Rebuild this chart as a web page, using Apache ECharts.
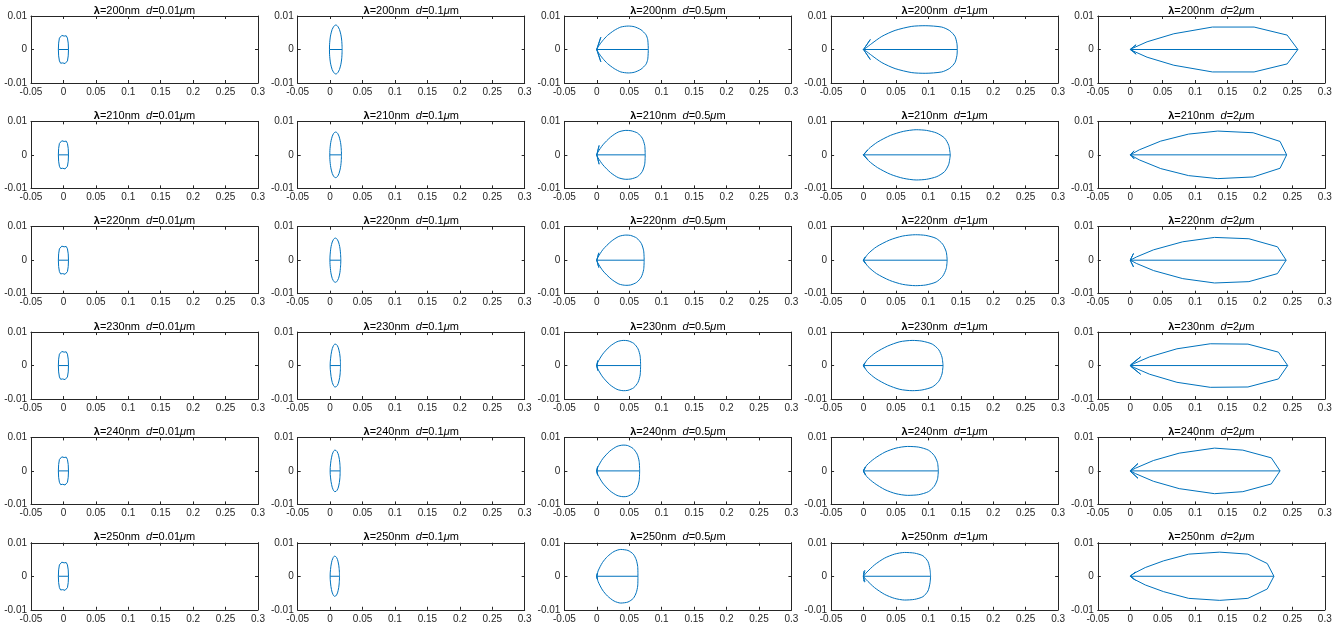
<!DOCTYPE html>
<html>
<head>
<meta charset="utf-8">
<script src="https://cdn.jsdelivr.net/npm/echarts@6/dist/echarts.min.js"></script>
<style>
html,body{margin:0;padding:0;background:#fff;}
#chart{width:1344px;height:627px;}
</style>
</head>
<body>
<div id="chart"></div>
<script>
// ---- data (upper halves of each scattering pattern, x/y) ----
const wavelengths = [200, 210, 220, 230, 240, 250];
const diameters = ['0.01', '0.1', '0.5', '1', '2'];
const xMin = -0.05, xMax = 0.3, xStep = 0.05;
const yMin = -0.01, yMax = 0.01, yStep = 0.01;

// d = 0.01 um (same for all wavelengths)
const d001 = [[0.0078,0],[0.0074,0.0019],[0.0062,0.0034],[0.0043,0.0041],[0.0025,0.0042],[0.0011,0.0040],[0,0.0039],[-0.0011,0.0040],[-0.0025,0.0042],[-0.0043,0.0041],[-0.0062,0.0034],[-0.0074,0.0019],[-0.0078,0]];

// d = 0.1 um
const d01_200 = [[0.0185,0],[0.0178,0.0028],[0.0156,0.0052],[0.0125,0.0067],[0.0088,0.0073],[0.0050,0.0067],[0.0019,0.0052],[-0.0003,0.0028],[-0.001,0]];
const d01_210 = [[0.0175,0],[0.0168,0.0026],[0.0148,0.0048],[0.0119,0.0063],[0.0085,0.0068],[0.0051,0.0063],[0.0022,0.0048],[0.0002,0.0026],[-0.0005,0]];
const d01_220 = [[0.0165,0],[0.0158,0.0025],[0.0140,0.0047],[0.0113,0.0061],[0.0081,0.0066],[0.0049,0.0061],[0.0022,0.0047],[0.0004,0.0025],[-0.0003,0]];
const d01_230 = [[0.0160,0],[0.0154,0.0025],[0.0136,0.0046],[0.0110,0.0060],[0.0078,0.0064],[0.0048,0.0058],[0.0024,0.0043],[0.0008,0.0022],[0,0]];
const d01_240 = [[0.0155,0],[0.0149,0.0024],[0.0132,0.0045],[0.0106,0.0058],[0.0075,0.0062],[0.0046,0.0056],[0.0023,0.0041],[0.0007,0.0021],[0,0]];
const d01_250 = [[0.0145,0],[0.0139,0.0023],[0.0123,0.0043],[0.0099,0.0056],[0.0070,0.0060],[0.0043,0.0054],[0.0021,0.0040],[0.0006,0.0020],[0,0]];

// d = 0.5 um
const d05_200 = [[0.0794,0],[0.0785,0.0029],[0.0758,0.0044],[0.068,0.0059],[0.0577,0.0068],[0.0485,0.0070],[0.037,0.0067],[0.0268,0.0057],[0.0165,0.0042],[0.0088,0.0026],[0.002,0.0008],[0,0],[0.0062,0.0037],[0.0008,0.0006],[-0.0005,0]];
const d05_210 = [[0.0746,0],[0.0738,0.0028],[0.070,0.0050],[0.0628,0.0065],[0.0526,0.0072],[0.0447,0.0073],[0.033,0.0068],[0.0212,0.0053],[0.0094,0.0030],[0.0016,0.0008],[0,0],[0.0035,0.0028],[0.0006,0.0005],[-0.0004,0]];
const d05_220 = [[0.0730,0],[0.0722,0.0028],[0.0686,0.0050],[0.0615,0.0066],[0.0520,0.0074],[0.0447,0.0075],[0.034,0.0071],[0.022,0.0056],[0.0095,0.0032],[0.0015,0.0008],[0,0],[0.003,0.0022],[0.0005,0.0004],[-0.0003,0]];
const d05_230 = [[0.0675,0],[0.0668,0.0028],[0.0635,0.0050],[0.057,0.0066],[0.048,0.0074],[0.0408,0.0075],[0.031,0.0071],[0.020,0.0057],[0.009,0.0034],[0.0015,0.0010],[0,0],[0.0015,0.0015],[0.0003,0.0004],[-0.0002,0]];
const d05_240 = [[0.0660,0],[0.0653,0.0028],[0.0622,0.0050],[0.0558,0.0067],[0.047,0.0076],[0.0405,0.0077],[0.031,0.0073],[0.020,0.0059],[0.009,0.0036],[0.0015,0.0011],[0,0],[0.0012,0.0013],[0.0002,0.0003],[-0.0002,0]];
const d05_250 = [[0.0634,0],[0.063,0.0029],[0.0608,0.0049],[0.0562,0.0066],[0.048,0.0077],[0.0368,0.0080],[0.0266,0.0074],[0.0164,0.0059],[0.0087,0.0041],[0.002,0.0016],[0,0],[0.0008,0.0009],[-0.0002,0]];

// d = 1 um
const d1_200 = [[0.1446,0],[0.144,0.0018],[0.141,0.0039],[0.133,0.0056],[0.1205,0.0067],[0.095,0.0071],[0.0744,0.0069],[0.0487,0.0057],[0.0282,0.0039],[0.0128,0.0018],[0.0026,0.0003],[0,0],[0.0105,0.0030],[0.001,0.0003],[-0.0005,0]];
const d1_210 = [[0.1338,0],[0.1314,0.0028],[0.125,0.0050],[0.113,0.0065],[0.097,0.0073],[0.0812,0.0075],[0.0613,0.0070],[0.0414,0.0058],[0.0215,0.0038],[0.008,0.0018],[0,0],[0.0064,0.0014],[0.0005,0.0002],[-0.0004,0]];
const d1_220 = [[0.1290,0],[0.1275,0.0025],[0.122,0.0048],[0.112,0.0065],[0.096,0.0074],[0.080,0.0076],[0.060,0.0072],[0.040,0.0060],[0.020,0.0040],[0.007,0.0019],[0,0],[0.003,0.0010],[-0.0003,0]];
const d1_230 = [[0.1226,0],[0.121,0.0025],[0.116,0.0047],[0.106,0.0064],[0.090,0.0073],[0.075,0.0075],[0.056,0.0071],[0.037,0.0058],[0.019,0.0039],[0.006,0.0018],[0,0],[0.002,0.0008],[-0.0002,0]];
const d1_240 = [[0.1154,0],[0.114,0.0025],[0.109,0.0046],[0.100,0.0062],[0.085,0.0071],[0.068,0.0073],[0.050,0.0068],[0.033,0.0056],[0.017,0.0037],[0.005,0.0017],[0,0],[0.003,0.0012],[-0.0002,0]];
const d1_250 = [[0.1034,0],[0.1025,0.0020],[0.0993,0.0044],[0.0916,0.0061],[0.0787,0.0069],[0.0633,0.0071],[0.0478,0.0066],[0.0324,0.0054],[0.017,0.0034],[0.004,0.0010],[0,0],[0.0022,0.0017],[0.0005,0.0015],[0,0.0005],[-0.0003,0]];

// d = 2 um
const d2_200 = [[0.2585,0],[0.242,0.0043],[0.191,0.0067],[0.1267,0.0067],[0.0672,0.0047],[0.026,0.0023],[0.004,0.0004],[0,0],[0.009,0.0014],[0.001,0.0002],[-0.0005,0]];
const d2_210 = [[0.2412,0],[0.231,0.0040],[0.1895,0.0066],[0.135,0.0071],[0.090,0.0062],[0.047,0.0041],[0.014,0.0015],[0,0],[0.006,0.0012],[0.0008,0.0002],[-0.0004,0]];
const d2_220 = [[0.2404,0],[0.227,0.0040],[0.183,0.0064],[0.130,0.0068],[0.081,0.0055],[0.036,0.0031],[0.010,0.0010],[0,0],[0.005,0.0020],[0.0008,0.0003],[-0.0004,0]];
const d2_230 = [[0.2428,0],[0.2285,0.0040],[0.1815,0.0064],[0.1234,0.0065],[0.072,0.0050],[0.030,0.0026],[0.006,0.0006],[0,0],[0.016,0.0026],[0.001,0.0003],[-0.0005,0]];
const d2_240 = [[0.2310,0],[0.2175,0.0039],[0.1736,0.0062],[0.130,0.0068],[0.0756,0.0053],[0.0358,0.0031],[0.008,0.0008],[0,0],[0.012,0.0022],[0.001,0.0003],[-0.0005,0]];
const d2_250 = [[0.2216,0],[0.2113,0.0038],[0.1814,0.0066],[0.138,0.0072],[0.0902,0.0066],[0.0515,0.0046],[0.0232,0.0026],[0.005,0.0008],[0,0],[0.008,0.0012],[0.001,0.0002],[-0.0005,0]];

const curves = [
  [d001, d01_200, d05_200, d1_200, d2_200],
  [d001, d01_210, d05_210, d1_210, d2_210],
  [d001, d01_220, d05_220, d1_220, d2_220],
  [d001, d01_230, d05_230, d1_230, d2_230],
  [d001, d01_240, d05_240, d1_240, d2_240],
  [d001, d01_250, d05_250, d1_250, d2_250]
];

// ---- layout / style ----
const FONT = '"Liberation Sans", Arial, Helvetica, sans-serif';
const AX = '#262626';
const LINE = '#0072BD';
const gridLeft0 = 31, gridDX = 266.7, gridW = 227;
const gridTop0 = 16, gridDY = 105.35, gridH = 67;
const smoothByCol = [false, 0.4, 0.25, 0.25, false];

const grids = [], xAxes = [], yAxes = [], series = [], graphics = [];

function axisBase(extra) {
  return Object.assign({
    type: 'value',
    splitLine: {show: false},
    axisLine: {show: true, onZero: false, lineStyle: {color: AX, width: 1}},
    axisTick: {show: true, inside: true, length: 3, lineStyle: {color: AX, width: 1}},
  }, extra);
}

for (let r = 0; r < wavelengths.length; r++) {
  for (let c = 0; c < diameters.length; c++) {
    const idx = r * diameters.length + c;
    const left = gridLeft0 + c * gridDX;
    const top = gridTop0 + r * gridDY;
    grids.push({left: left, top: top, width: gridW, height: gridH, containLabel: false});
    xAxes.push(axisBase({gridIndex: idx, position: 'bottom', min: xMin, max: xMax, interval: xStep,
      axisLabel: {show: true, fontSize: 10, color: AX, fontFamily: FONT, margin: 4, showMinLabel: true, showMaxLabel: true}}));
    xAxes.push(axisBase({gridIndex: idx, position: 'top', min: xMin, max: xMax, interval: xStep,
      axisLabel: {show: false}}));
    yAxes.push(axisBase({gridIndex: idx, position: 'left', min: yMin, max: yMax, interval: yStep,
      axisLabel: {show: true, fontSize: 10, color: AX, fontFamily: FONT, margin: 4}}));
    yAxes.push(axisBase({gridIndex: idx, position: 'right', min: yMin, max: yMax, interval: yStep,
      axisLabel: {show: false}}));

    const up = curves[r][c];
    const lower = up.slice().reverse().map(p => [p[0], -p[1]]);
    const closed = up.concat(lower);
    series.push({
      type: 'line', xAxisIndex: 2 * idx, yAxisIndex: 2 * idx, data: closed,
      symbol: 'none', smooth: smoothByCol[c], silent: true,
      lineStyle: {color: LINE, width: 1}
    });
    series.push({
      type: 'line', xAxisIndex: 2 * idx, yAxisIndex: 2 * idx,
      data: [[up[up.length - 1][0], 0], [up[0][0], 0]],
      symbol: 'none', silent: true,
      lineStyle: {color: LINE, width: 1}
    });

    graphics.push({
      type: 'text', x: left + gridW / 2, y: top - 5.5, silent: true,
      style: {
        text: '{b|λ}=' + wavelengths[r] + 'nm  {i|d}=' + diameters[c] + '{i|μ}m',
        fill: '#000', font: '11px ' + FONT, align: 'center', verticalAlign: 'middle',
        rich: {
          b: {fontWeight: 'bold', fontSize: 11, fontFamily: FONT, fill: '#000'},
          i: {fontStyle: 'italic', fontSize: 11, fontFamily: FONT, fill: '#000'}
        }
      }
    });
  }
}

const chart = echarts.init(document.getElementById('chart'), null, {renderer: 'canvas'});
chart.setOption({
  animation: false,
  backgroundColor: '#fff',
  grid: grids,
  xAxis: xAxes,
  yAxis: yAxes,
  series: series,
  graphic: graphics
});
</script>
</body>
</html>
